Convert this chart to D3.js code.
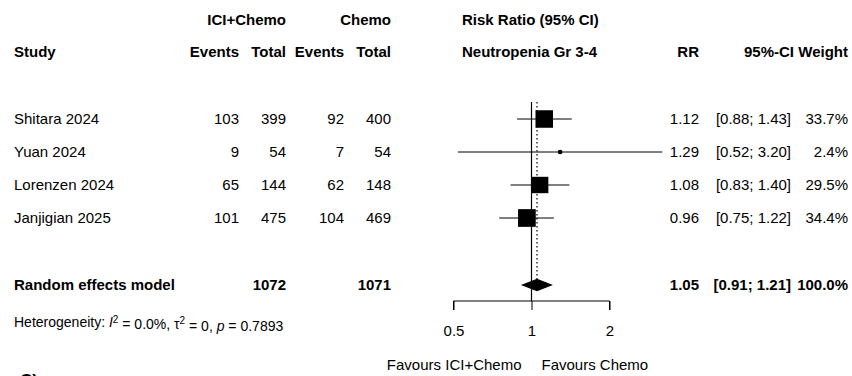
<!DOCTYPE html>
<html>
<head>
<meta charset="utf-8">
<script src="https://cdn.jsdelivr.net/npm/d3@7"></script>
<style>
  html, body { margin: 0; padding: 0; background: #fff; }
  svg { display: block; font-family: Arial, "Liberation Sans", sans-serif; }
</style>
</head>
<body>
<svg id="chart" width="852" height="376"></svg>
<script>
//study data
var studies = ['Shitara 2024', 'Yuan 2024', 'Lorenzen 2024', 'Janjigian 2025'];
var iciEvents = [103, 9, 65, 101];
var iciTotal = [399, 54, 144, 475];
var chemoEvents = [92, 7, 62, 104];
var chemoTotal = [400, 54, 148, 469];
var rr = [1.12, 1.29, 1.08, 0.96];
var ciLow = [0.88, 0.52, 0.83, 0.75];
var ciHigh = [1.43, 3.20, 1.40, 1.22];
var weights = [33.7, 2.4, 29.5, 34.4];

//pooled model
var pooled = {label: 'Random effects model', iciTotal: 1072, chemoTotal: 1071, rr: 1.05, lo: 0.91, hi: 1.21, weight: 100.0};
var axisTicks = [0.5, 1, 2];

//layout namespace
var fp = {
	'fontSize': 15,
	'rowTop': 119,
	'rowStep': 33,
	'pooledY': 285,
	'axisY': 301,
	'lineTop': 102
};

var svg = d3.select('#chart');

//scales
var x = d3.scaleLog().domain([0.5, 2]).range([453.5, 609.5]);
var y = d3.scaleLinear().domain([0, studies.length - 1])
	.range([fp.rowTop, fp.rowTop + fp.rowStep * (studies.length - 1)]);
var boxSize = d3.scaleSqrt().domain([0, d3.max(weights)]).range([0, 17.7]);

function txt(xp, yp, s, anchor, bold, size) {
	return svg.append('text')
		.attr('x', xp)
		.attr('y', yp)
		.attr('dy', '0.36em')
		.attr('text-anchor', anchor || 'start')
		.style('font-size', (size || fp.fontSize) + 'px')
		.style('font-weight', bold ? 'bold' : 'normal')
		.style('fill', '#000')
		.text(s);
}

//column right edges
var col = {study: 14, iciE: 239, iciT: 286, chE: 344, chT: 391, rr: 699, ci: 791, w: 848};

//headers
txt(col.iciT, 20, 'ICI+Chemo', 'end', true);
txt(col.chT, 20, 'Chemo', 'end', true);
txt(462, 20, 'Risk Ratio (95% CI)', 'start', true);
txt(col.study, 52, 'Study', 'start', true);
txt(col.iciE, 52, 'Events', 'end', true);
txt(col.iciT, 52, 'Total', 'end', true);
txt(col.chE, 52, 'Events', 'end', true);
txt(col.chT, 52, 'Total', 'end', true);
txt(462, 52, 'Neutropenia Gr 3-4', 'start', true);
txt(col.rr, 52, 'RR', 'end', true);
txt(794, 52, '95%-CI', 'end', true);
txt(col.w, 52, 'Weight', 'end', true);

//study rows
studies.forEach(function(d, i) {
	var yy = y(i);
	txt(col.study, yy, d);
	txt(col.iciE, yy, iciEvents[i], 'end');
	txt(col.iciT, yy, iciTotal[i], 'end');
	txt(col.chE, yy, chemoEvents[i], 'end');
	txt(col.chT, yy, chemoTotal[i], 'end');
	txt(col.rr, yy, rr[i].toFixed(2), 'end');
	txt(col.ci, yy, '[' + ciLow[i].toFixed(2) + '; ' + ciHigh[i].toFixed(2) + ']', 'end');
	txt(col.w, yy, weights[i].toFixed(1) + '%', 'end');
});

//pooled row text
txt(col.study, fp.pooledY, pooled.label, 'start', true);
txt(col.iciT, fp.pooledY, pooled.iciTotal, 'end', true);
txt(col.chT, fp.pooledY, pooled.chemoTotal, 'end', true);
txt(col.rr, fp.pooledY, pooled.rr.toFixed(2), 'end', true);
txt(col.ci, fp.pooledY, '[' + pooled.lo.toFixed(2) + '; ' + pooled.hi.toFixed(2) + ']', 'end', true);
txt(col.w, fp.pooledY, pooled.weight.toFixed(1) + '%', 'end', true);

//heterogeneity line
var het = svg.append('text')
	.attr('x', col.study)
	.attr('y', 322)
	.attr('dy', '0.36em')
	.style('font-size', '14px');
het.append('tspan').text('Heterogeneity: ');
het.append('tspan').style('font-style', 'italic').text('I');
het.append('tspan').attr('dy', '-0.45em').style('font-size', '10px').text('2');
het.append('tspan').attr('dy', '0.45em').text(' = 0.0%, \u03c4');
het.append('tspan').attr('dy', '-0.45em').style('font-size', '10px').text('2');
het.append('tspan').attr('dy', '0.45em').text(' = 0, ');
het.append('tspan').style('font-style', 'italic').text('p');
het.append('tspan').text(' = 0.7893');

//reference lines
svg.append('line')
	.attr('x1', x(1)).attr('x2', x(1))
	.attr('y1', fp.lineTop).attr('y2', fp.axisY)
	.style('stroke', '#000').style('stroke-width', 1.2);
svg.append('line')
	.attr('x1', x(pooled.rr)).attr('x2', x(pooled.rr))
	.attr('y1', fp.lineTop).attr('y2', fp.pooledY - 6)
	.style('stroke', '#000').style('stroke-width', 1.2)
	.style('stroke-dasharray', '1.5,2.5');

//CI lines and boxes
var g = svg.append('g').attr('class', 'studies');
g.selectAll('.ci')
	.data(studies)
	.enter().append('line')
	.attr('class', 'ci')
	.attr('x1', function(d, i) { return x(ciLow[i]); })
	.attr('x2', function(d, i) { return x(ciHigh[i]); })
	.attr('y1', function(d, i) { return y(i); })
	.attr('y2', function(d, i) { return y(i); })
	.style('stroke', '#000').style('stroke-width', 1);
g.selectAll('.box')
	.data(studies)
	.enter().append('rect')
	.attr('class', 'box')
	.attr('x', function(d, i) { return x(rr[i]) - boxSize(weights[i]) / 2; })
	.attr('y', function(d, i) { return y(i) - boxSize(weights[i]) / 2; })
	.attr('width', function(d, i) { return boxSize(weights[i]); })
	.attr('height', function(d, i) { return boxSize(weights[i]); })
	.attr('rx', function(d, i) { return weights[i] < 5 ? boxSize(weights[i]) / 2 : 0; })
	.style('fill', '#000');

//diamond
svg.append('path')
	.attr('d', 'M' + x(pooled.lo) + ',' + fp.pooledY +
		'L' + x(pooled.rr) + ',' + (fp.pooledY - 6.2) +
		'L' + x(pooled.hi) + ',' + fp.pooledY +
		'L' + x(pooled.rr) + ',' + (fp.pooledY + 6.2) + 'Z')
	.style('fill', '#000');

//axis
var axis = d3.axisBottom(x).tickValues(axisTicks).tickFormat(d3.format('')).tickSize(9).tickPadding(15);
var ax = svg.append('g')
	.attr('transform', 'translate(0,' + fp.axisY + ')')
	.call(axis);
ax.select('.domain').attr('d', 'M' + x(0.5) + ',9V0H' + x(2) + 'V9').style('stroke', '#000');
ax.selectAll('.tick line').style('stroke', '#000');
ax.selectAll('.tick text')
	.style('font-size', fp.fontSize + 'px')
	.style('font-family', 'Arial, "Liberation Sans", sans-serif')
	.style('fill', '#000');

//favours labels
txt(x(1) - 10, 365, 'Favours ICI+Chemo', 'end');
txt(x(1) + 10, 365, 'Favours Chemo', 'start');

//next panel label, cut off at the bottom as in the source figure
svg.append('text')
	.attr('x', 20).attr('y', 386)
	.style('font-size', '17px').style('font-weight', 'bold')
	.text('C)');
</script>
</body>
</html>
